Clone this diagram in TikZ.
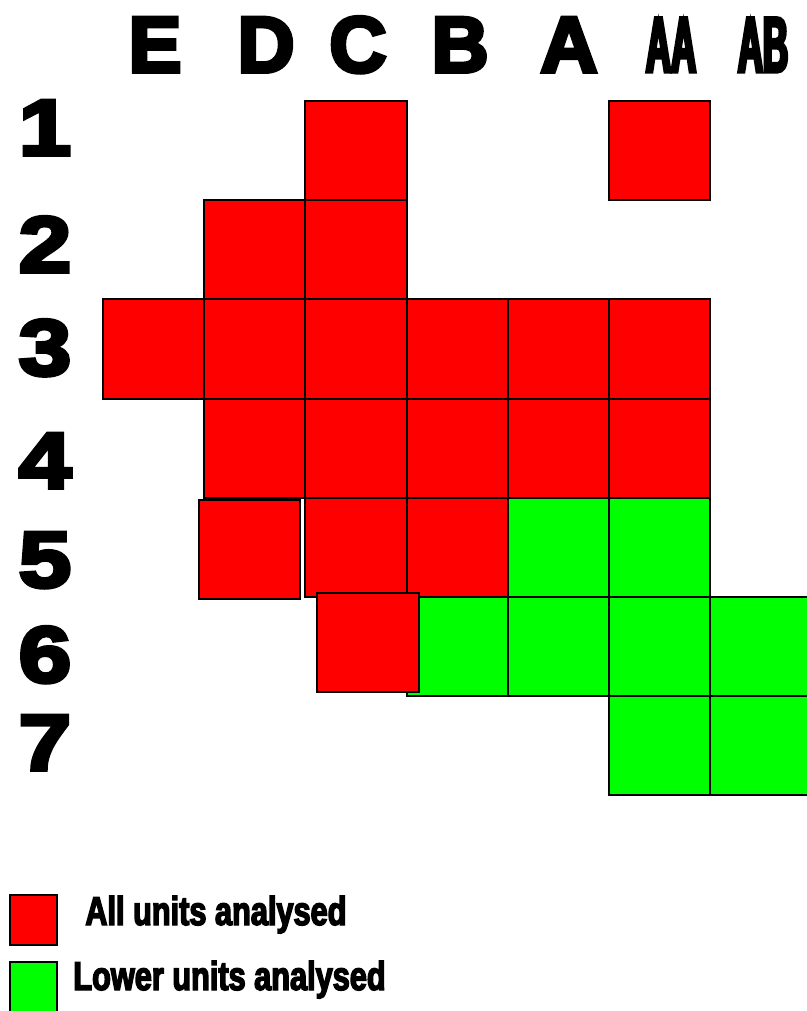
\documentclass[tikz,border=0pt]{standalone}
\usepackage{fontspec}
\newfontfamily\heavyfont{Liberation Sans}[BoldFeatures={FakeBold=5}]
\newfontfamily\narrowfont{Liberation Sans}[BoldFeatures={FakeBold=4,FakeStretch=0.44}]
\newfontfamily\widefont{Liberation Sans}[BoldFeatures={FakeBold=5,FakeStretch=1.2}]
\newfontfamily\legendfont{Liberation Sans}[BoldFeatures={FakeBold=3.5,FakeStretch=0.76}]
\definecolor{unitred}{RGB}{255,0,0}
\definecolor{unitgreen}{RGB}{0,255,0}

\begin{document}
\begin{tikzpicture}[x=0.02cm,y=-0.02cm,line join=miter,
    redcell/.style={draw=black,line width=1.1pt,fill=unitred},
    greencell/.style={draw=black,line width=1.1pt,fill=unitgreen},
    collabel/.style={anchor=base,inner sep=0pt,font=\heavyfont\bfseries\fontsize{45}{45}\selectfont},
    rowlabel/.style={anchor=base,inner sep=0pt,font=\widefont\bfseries\fontsize{45}{45}\selectfont},
    legendtext/.style={anchor=base west,inner sep=0pt,font=\legendfont\bfseries\fontsize{23}{23}\selectfont}]
  \def\cw{101.2}
  \def\ch{99.2}
  \useasboundingbox (0,0) rectangle (807,1011);
  \clip (0,0) rectangle (807,1011);
  \foreach \c/\r in {4/5,5/5,3/6,4/6,5/6,6/6,5/7,6/7}
    \draw[greencell] ({103+\c*\cw},{101+(\r-1)*\ch}) rectangle ++(\cw,\ch);
  \foreach \c/\r in {2/1,5/1,1/2,2/2,0/3,1/3,2/3,3/3,4/3,5/3,1/4,2/4,3/4,4/4,5/4,2/5,3/5}
    \draw[redcell] ({103+\c*\cw},{101+(\r-1)*\ch}) rectangle ++(\cw,\ch);
  \draw[redcell] (199,500) rectangle (300,599);
  \draw[redcell] (317,593) rectangle (419,692);
  \foreach \name/\lbl/\x in {colE/E/155,colD/D/266,colC/C/358,colB/B/460,colA/A/569}
    \node[collabel] (\name) at (\x,72) {\lbl};
  \node[collabel,font=\narrowfont\bfseries\fontsize{45}{45}\selectfont] (colAA) at (671,72) {AA};
  \node[collabel,font=\narrowfont\bfseries\fontsize{45}{45}\selectfont] (colAB) at (763,72) {AB};
  \foreach \r/\y in {1/155,2/272,3/375,4/488,5/587,6/682,7/770}
    \node[rowlabel] (row\r) at (45,\y) {\r};
  \draw[redcell] (10,895) rectangle (57,945);
  \draw[greencell] (10,962) rectangle (57,1015);
  \node[legendtext] (keyall) at (85,925) {All units analysed};
  \node[legendtext] (keylower) at (73,990) {Lower units analysed};
\end{tikzpicture}
\end{document}
